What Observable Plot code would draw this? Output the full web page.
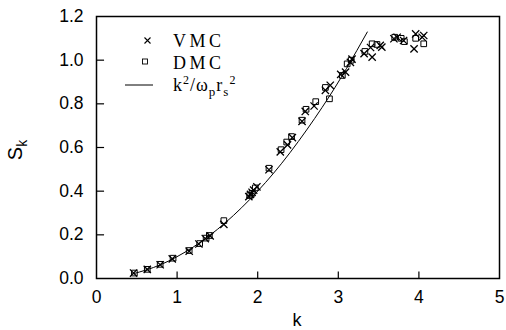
<!DOCTYPE html>
<html>
<head>
<meta charset="utf-8">
<script src="https://cdn.jsdelivr.net/npm/d3@7"></script>
<script src="https://cdn.jsdelivr.net/npm/@observablehq/plot@0.6"></script>
<style>
  html, body { margin: 0; padding: 0; background: #fff; }
  #chart svg { display: block; }
</style>
</head>
<body>
<div id="chart"></div>
<script>
// ---- data ----
const xTicks = [0, 1, 2, 3, 4, 5];
const yTicks = [0.0, 0.2, 0.4, 0.6, 0.8, 1.0, 1.2];

const vmcK = [0.46,0.63,0.79,0.94,1.15,1.27,1.35,1.41,1.58,1.89,1.91,1.93,1.95,1.99,2.14,2.28,2.37,2.43,2.55,2.59,2.70,2.84,2.90,3.03,3.09,3.15,3.17,3.32,3.40,3.42,3.52,3.54,3.69,3.73,3.81,3.94,3.96,4.04,4.06];
const vmcS = [0.025,0.042,0.063,0.090,0.125,0.158,0.183,0.195,0.248,0.375,0.385,0.395,0.405,0.420,0.498,0.580,0.612,0.645,0.720,0.765,0.790,0.862,0.885,0.935,0.945,0.990,1.005,1.030,1.058,1.014,1.068,1.060,1.098,1.105,1.090,1.052,1.120,1.105,1.113];

const dmcK = [0.47,0.63,0.79,0.95,1.15,1.28,1.36,1.40,1.58,1.90,1.93,1.97,2.14,2.29,2.36,2.42,2.55,2.60,2.72,2.84,2.89,3.05,3.11,3.16,3.33,3.42,3.48,3.70,3.78,3.82,3.96,4.06];
const dmcS = [0.025,0.042,0.065,0.093,0.128,0.160,0.185,0.197,0.265,0.380,0.390,0.415,0.505,0.590,0.625,0.650,0.725,0.775,0.810,0.875,0.823,0.930,0.983,1.000,1.040,1.075,1.072,1.105,1.100,1.085,1.100,1.075];

const lineK = [0.45,0.8,1.2,1.6,2.0,2.4,2.8,3.1,3.36];
const lineS = [0.021,0.064,0.144,0.256,0.400,0.576,0.784,0.961,1.129];

// ---- tables built from arrays ----
const vmc = vmcK.map((k, i) => ({k, s: vmcS[i]}));
const dmc = dmcK.map((k, i) => ({k, s: dmcS[i]}));
const theory = lineK.map((k, i) => ({k, s: lineS[i]}));

const plot = Plot.plot({
  width: 506,
  height: 330,
  marginLeft: 96,
  marginRight: 7,
  marginTop: 16,
  marginBottom: 52,
  style: {fontFamily: "'Liberation Sans', Arial, sans-serif", background: "#fff", color: "#000"},
  x: {domain: [0, 5]},
  y: {domain: [0, 1.2]},
  marks: [
    Plot.frame({stroke: "#000", strokeWidth: 1.5}),
    Plot.ruleY(yTicks.slice(1, -1), {y: d => d, x1: 0, x2: 0.1, stroke: "#000", strokeWidth: 1.2}),
    Plot.ruleX(xTicks.slice(1, -1), {x: d => d, y1: 0, y2: 0.03, stroke: "#000", strokeWidth: 1.2}),
    Plot.axisY(yTicks, {tickSize: 0, tickPadding: 13, fontSize: 17.5, tickFormat: d3.format(".1f"), label: null}),
    Plot.axisX(xTicks, {tickSize: 0, tickPadding: 12, fontSize: 17.5, tickFormat: d3.format("d"), label: null}),
    Plot.line(theory, {x: "k", y: "s", curve: "natural", stroke: "#000", strokeWidth: 1}),
    Plot.dot(dmc, {x: "k", y: "s", symbol: "square", r: 3.2, stroke: "#000", fill: "none", strokeWidth: 1}),
    Plot.dot(vmc, {x: "k", y: "s", symbol: "times", r: 3.4, stroke: "#000", strokeWidth: 1.3})
  ]
});

document.getElementById("chart").appendChild(plot);

// ---- axis titles and legend as real text ----
const svg = d3.select(plot);
const ylab = svg.append("text")
  .attr("transform", "translate(22,150) rotate(-90)")
  .attr("text-anchor", "middle")
  .style("font-family", "'Liberation Sans', Arial, sans-serif")
  .style("font-size", "20px")
  .attr("fill", "#000");
ylab.append("tspan").text("S");
ylab.append("tspan").attr("dy", 5).style("font-size", "14px").text("k");

svg.append("text")
  .attr("x", 297).attr("y", 326)
  .attr("text-anchor", "middle")
  .style("font-family", "'Liberation Sans', Arial, sans-serif")
  .style("font-size", "18px")
  .attr("fill", "#000")
  .text("k");

const lg = svg.append("g")
  .attr("text-anchor", "start")
  .style("font-family", "'Liberation Serif', 'Times New Roman', serif")
  .style("font-size", "18px")
  .attr("fill", "#000");
// VMC
lg.append("path").attr("d", "M144.5,37.5L150.5,43.5M150.5,37.5L144.5,43.5").attr("stroke", "#000").attr("stroke-width", 1.1);
lg.append("text").attr("x", 173).attr("y", 46.5).attr("text-anchor", "start").style("letter-spacing", "3.5px").text("VMC");
// DMC
lg.append("rect").attr("x", 142.5).attr("y", 59).attr("width", 5).attr("height", 5).attr("fill", "none").attr("stroke", "#000").attr("stroke-width", 0.9);
lg.append("text").attr("x", 173).attr("y", 68.5).attr("text-anchor", "start").style("letter-spacing", "3.5px").text("DMC");
// theory line
lg.append("line").attr("x1", 125).attr("x2", 153).attr("y1", 85).attr("y2", 85).attr("stroke", "#000").attr("stroke-width", 1);
const ft = lg.append("text").attr("x", 173).attr("y", 91).attr("text-anchor", "start").style("letter-spacing", "1px");
ft.append("tspan").text("k");
ft.append("tspan").attr("dy", -7).style("font-size", "12px").text("2");
ft.append("tspan").attr("dy", 7).text("/ω");
ft.append("tspan").attr("dy", 5).style("font-size", "13px").text("p");
ft.append("tspan").attr("dy", -5).text("r");
ft.append("tspan").attr("dy", 5).style("font-size", "13px").text("s");
ft.append("tspan").attr("dy", -12).style("font-size", "12px").text("2");
</script>
</body>
</html>
